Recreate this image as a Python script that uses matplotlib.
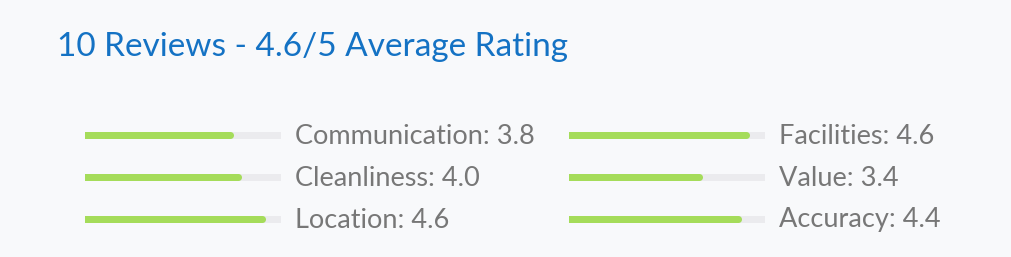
import matplotlib.pyplot as plt

W, H = 1011, 257

title = "10 Reviews - 4.6/5 Average Rating"
left_names = ["Communication", "Cleanliness", "Location"]
left_scores = [3.8, 4.0, 4.6]
right_names = ["Facilities", "Value", "Accuracy"]
right_scores = [4.6, 3.4, 4.4]
max_score = 5

bg = "#f8f9fb"
track = "#ebebee"
fill = "#a5dc5a"
blue = "#1472c4"
grey = "#777777"

plt.rcParams['font.family'] = ['Lato', 'DejaVu Sans']

fig = plt.figure(figsize=(W / 100, H / 100), dpi=100, facecolor=bg)
fig.text(57 / W, 1 - 47 / H, title, color=blue, fontsize=24, va='center', ha='left')

BAR_PX = 7
TRACK_PX = 196
ROW_PX = 42


def column(x0, names, scores):
    # axes covers the bar track, rows 42 px apart
    ax = fig.add_axes([x0 / W, (H - 240) / H, TRACK_PX / W, 3 * ROW_PX / H])
    ax.set_facecolor('none')
    rows = list(range(len(names)))
    r = max_score * (BAR_PX / 2) / TRACK_PX  # cap radius in data units
    ax.barh(rows, [max_score] * len(rows), height=BAR_PX / ROW_PX, color=track)
    ax.barh(rows, [s - r for s in scores], height=BAR_PX / ROW_PX, color=fill)
    # rounded end of the filled part
    ax.scatter([s - r for s in scores], rows, s=(BAR_PX * 0.72) ** 2,
               color=fill, marker='o', linewidths=0, zorder=3)
    ax.set_xlim(0, max_score)
    ax.set_ylim(2.5, -0.5)
    ax.axis('off')
    for row, n, s in zip(rows, names, scores):
        ax.text(max_score * (1 + 14 / TRACK_PX), row - 1.5 / ROW_PX, f"{n}: {s:.1f}",
                color=grey, fontsize=19.5, va='center_baseline', ha='left',
                clip_on=False)


column(85, left_names, left_scores)
column(569, right_names, right_scores)

fig.savefig("out.png", dpi=100, facecolor=bg)
